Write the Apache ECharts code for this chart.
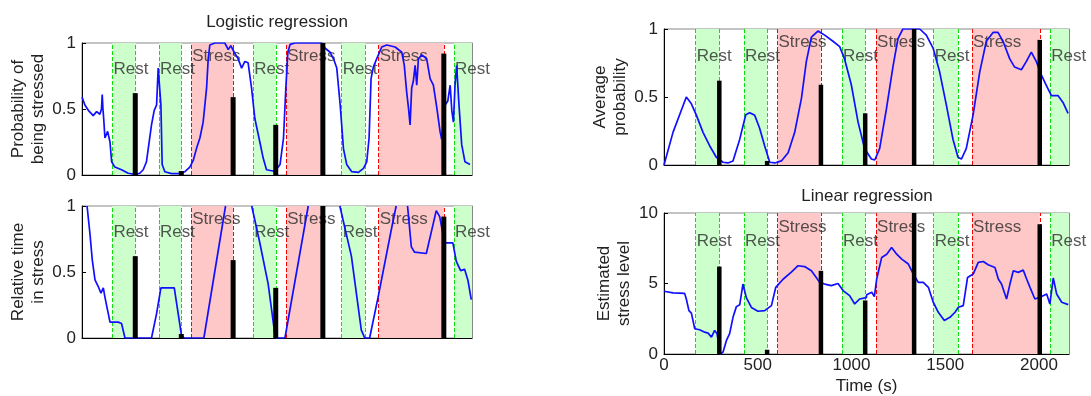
<!DOCTYPE html>
<html>
<head>
<meta charset="utf-8">
<script src="https://cdn.jsdelivr.net/npm/echarts@6/dist/echarts.min.js"></script>
<style>
  html, body { margin: 0; padding: 0; background: #fff; }
  #chart { width: 1091px; height: 396px; }
</style>
</head>
<body>
<div id="chart"></div>
<script>
// time axis (s) shared by all four panels
const xMax = 2160
const restBands = [[169, 297], [427, 551], [949, 1074], [1438, 1568], [2060, 2160]]
const stressBands = [[605, 836], [1131, 1333], [1643, 2004]]

// reference (self-reported) stress at the end of each block
const refTimes = [295, 550, 837, 1073, 1334, 1568, 2004]
const refProb = [0.62, 0.03, 0.59, 0.38, 1.0, 0, 0.92]
const refLevel = [6.2, 0.3, 5.9, 3.8, 10, 0, 9.2]

// logistic regression: probability of being stressed
const logisticProb = [
  [0, 0.59], [16, 0.53], [35, 0.49], [62, 0.45], [81, 0.48], [99, 0.46], [108, 0.5], [112, 0.61],
  [116, 0.5], [120, 0.43], [127, 0.28], [142, 0.33], [150, 0.28], [155, 0.25], [164, 0.10],
  [182, 0.06], [219, 0.04], [256, 0.013], [293, 0.005], [320, 0.013], [339, 0.04], [357, 0.10],
  [370, 0.23], [385, 0.38], [400, 0.49], [413, 0.53], [422, 0.81], [430, 0.80], [437, 0.53],
  [444, 0.08], [459, 0.025], [496, 0.01], [533, 0.01], [570, 0.025], [597, 0.06], [616, 0.11],
  [634, 0.20], [653, 0.28], [671, 0.40], [690, 0.66], [699, 0.88], [708, 0.985], [736, 1.0],
  [791, 1.0], [810, 0.95], [824, 0.98], [843, 0.93], [865, 0.88], [884, 0.81], [902, 0.86],
  [920, 0.85], [939, 0.66], [957, 0.43], [985, 0.25], [1003, 0.13], [1022, 0.04], [1058, 0.03],
  [1070, 0.03], [1097, 0.08], [1116, 0.28], [1129, 0.66], [1140, 0.93], [1153, 0.99], [1180, 1.0],
  [1328, 1.0], [1347, 0.96], [1374, 0.93], [1393, 0.88], [1411, 0.81], [1430, 0.53], [1448, 0.20],
  [1466, 0.08], [1494, 0.025], [1531, 0.02], [1559, 0.05], [1577, 0.10], [1590, 0.28], [1601, 0.73],
  [1614, 0.82], [1632, 0.88], [1660, 0.97], [1688, 0.985], [1734, 0.97], [1771, 0.93], [1785, 0.83],
  [1798, 0.63], [1808, 0.51], [1817, 0.38], [1826, 0.66], [1835, 0.71], [1845, 0.83], [1854, 0.68],
  [1863, 0.88], [1882, 0.91], [1909, 0.88], [1928, 0.73], [1946, 0.68], [1965, 0.51], [1983, 0.33],
  [1992, 0.27], [2001, 0.38], [2011, 0.53], [2026, 0.56], [2039, 0.68], [2048, 0.49], [2057, 0.40],
  [2066, 0.68], [2075, 0.83], [2088, 0.53], [2103, 0.23], [2121, 0.10], [2149, 0.08]
]

// relative time in stress ('-' = curve leaves the plot at the top)
const relStress = [
  [28, 1.0], [44, 0.79], [57, 0.59], [72, 0.44], [90, 0.39], [105, 0.34], [118, 0.38], [127, 0.31],
  [155, 0.12], [201, 0.12], [219, 0.11], [238, 0], [385, 0], [413, 0.185], [437, 0.38], [511, 0.38],
  [551, 0.02], [566, 0], [675, 0], [795, 1.0], [860, '-'], [940, 1.0], [985, 0.72], [1031, 0.41],
  [1068, 0.03], [1077, 0], [1124, 0], [1253, 1.0], [1340, '-'], [1428, 1.0], [1492, 0.62],
  [1547, 0.06], [1566, 0], [1593, 0], [1640, 0.31], [1713, 0.82], [1740, 1.0], [1770, '-'],
  [1803, 1.0], [1824, 0.69], [1842, 0.65], [1907, 0.64], [1962, 0.965], [1981, 0.92], [2008, 0.72],
  [2054, 0.72], [2073, 0.58], [2097, 0.51], [2119, 0.52], [2137, 0.44], [2156, 0.29]
]

// average probability
const avgProb = [
  [0, 0], [48, 0.24], [119, 0.50], [146, 0.45], [173, 0.365], [208, 0.24], [244, 0.14], [279, 0.057],
  [315, 0.02], [341, 0.015], [368, 0.03], [404, 0.19], [436, 0.37], [457, 0.385], [484, 0.365],
  [510, 0.27], [537, 0.14], [564, 0.02], [591, 0.015], [626, 0.03], [662, 0.09], [697, 0.24],
  [733, 0.49], [759, 0.76], [786, 0.94], [821, 0.985], [857, 0.955], [901, 0.91], [937, 0.87],
  [963, 0.78], [999, 0.59], [1035, 0.315], [1070, 0.12], [1106, 0.044], [1124, 0.037], [1150, 0.12],
  [1186, 0.41], [1222, 0.73], [1248, 0.93], [1274, 1.0], [1364, 1.0], [1399, 0.955], [1435, 0.86],
  [1470, 0.685], [1506, 0.44], [1541, 0.19], [1568, 0.057], [1586, 0.044], [1612, 0.12],
  [1648, 0.365], [1684, 0.685], [1719, 0.91], [1755, 0.975], [1781, 0.975], [1808, 0.91],
  [1844, 0.78], [1870, 0.72], [1906, 0.70], [1932, 0.76], [1959, 0.83], [1986, 0.76], [2013, 0.66],
  [2039, 0.585], [2066, 0.51], [2102, 0.51], [2128, 0.46], [2155, 0.38]
]

// linear regression: estimated stress level
const linearLevel = [
  [0, 4.45], [48, 4.33], [110, 4.3], [119, 3.9], [133, 3.08], [146, 2.9], [164, 1.79], [190, 1.72],
  [217, 1.55], [235, 1.48], [253, 1.2], [270, 1.67], [283, 1.44], [294, 0.49], [301, 0], [315, 0.14],
  [333, 0.96], [350, 1.44], [368, 2.6], [386, 3.36], [404, 3.5], [421, 4.96], [439, 4.0], [466, 3.3],
  [501, 3.03], [537, 3.08], [573, 3.43], [596, 4.73], [635, 5.3], [679, 5.8], [715, 6.26], [750, 6.2],
  [786, 5.9], [813, 5.4], [830, 5.08], [857, 4.96], [892, 4.85], [928, 5.0], [955, 4.5], [990, 4.14],
  [1017, 3.55], [1043, 3.9], [1079, 4.0], [1081, 4.2], [1108, 4.38], [1122, 4.07], [1134, 5.3],
  [1161, 6.85], [1188, 7.08], [1214, 7.55], [1241, 7.08], [1268, 6.73], [1303, 6.38], [1330, 5.67],
  [1356, 5.08], [1383, 5.08], [1410, 4.73], [1436, 3.67], [1463, 2.96], [1495, 2.38], [1525, 2.6],
  [1552, 2.96], [1570, 3.32], [1596, 3.43], [1619, 5.43], [1649, 5.67], [1676, 6.5], [1703, 6.56],
  [1729, 6.33], [1765, 6.14], [1783, 5.32], [1800, 4.96], [1827, 3.9], [1845, 4.96], [1863, 5.9],
  [1889, 5.79], [1916, 5.95], [1934, 5.32], [1952, 4.73], [1978, 3.9], [2014, 4.07], [2041, 4.26],
  [2058, 3.55], [2076, 5.39], [2094, 4.26], [2121, 3.67], [2156, 3.5]
]

const font = 'Liberation Sans, Arial, sans-serif'
const txt = '#222'

const panels = [
  { grid: { left: 82, top: 43, width: 390, height: 132 }, max: 1, step: 0.5, name: 'Probability of\nbeing stressed', gap: 32, curve: logisticProb, bars: refProb, barW: 5 },
  { grid: { left: 82, top: 206, width: 390, height: 132 }, max: 1, step: 0.5, name: 'Relative time\nin stress', gap: 32, curve: relStress, bars: refProb, barW: 5 },
  { grid: { left: 664, top: 29, width: 405, height: 136 }, max: 1, step: 0.5, name: 'Average\nprobability', gap: 34, curve: avgProb, bars: refProb, barW: 4.5 },
  { grid: { left: 664, top: 213, width: 405, height: 142 }, max: 10, step: 5, name: 'Estimated\nstress level', gap: 30, curve: linearLevel, bars: refLevel, barW: 4.5, showX: true }
]

const grid = [], xAxis = [], yAxis = [], series = []

panels.forEach(function (p, i) {
  grid.push(Object.assign({ show: true, borderColor: '#888', borderWidth: 1, backgroundColor: 'transparent' }, p.grid))
  xAxis.push({
    type: 'value', gridIndex: i, min: 0, max: xMax, interval: 500,
    name: p.showX ? 'Time (s)' : '', nameLocation: 'middle', nameGap: 24,
    nameTextStyle: { fontFamily: font, fontSize: 17, color: txt },
    axisLine: { lineStyle: { color: '#000' } },
    axisTick: { show: !!p.showX, inside: true, length: 4, lineStyle: { color: '#000' } },
    axisLabel: { show: !!p.showX, fontFamily: font, fontSize: 17, color: txt, margin: 3,
      formatter: function (v) { return String(v) } },
    splitLine: { show: false }
  })
  yAxis.push({
    type: 'value', gridIndex: i, min: 0, max: p.max, interval: p.step,
    name: p.name, nameLocation: 'middle', nameGap: p.gap, nameRotate: 90,
    nameTextStyle: { fontFamily: font, fontSize: 17, lineHeight: 20, color: txt },
    axisLine: { show: true, lineStyle: { color: '#000' } },
    axisTick: { inside: true, length: 4, lineStyle: { color: '#000' } },
    axisLabel: { fontFamily: font, fontSize: 17, color: txt, margin: 6 },
    splitLine: { show: false }
  })
  // mirrored ticks on the right edge
  yAxis.push({
    type: 'value', gridIndex: i, min: 0, max: p.max, interval: p.step, position: 'right',
    axisLine: { show: true, lineStyle: { color: '#888' } },
    axisTick: { inside: true, length: 4, lineStyle: { color: '#000' } },
    axisLabel: { show: false },
    splitLine: { show: false }
  })
  const yi = i * 2
  const restLabelY = p.max * 0.8
  const stressLabelY = p.max * 0.9

  // background blocks + dashed borders
  const lines = []
  restBands.forEach(function (b) {
    b.forEach(function (t) {
      if (t < xMax) lines.push({ xAxis: t, lineStyle: { color: '#11dd11' } })
    })
  })
  stressBands.forEach(function (b) {
    b.forEach(function (t) { lines.push({ xAxis: t, lineStyle: { color: '#ff0000' } }) })
  })
  series.push({
    type: 'line', xAxisIndex: i, yAxisIndex: yi, data: [], silent: true, z: 1,
    markArea: {
      silent: true, z: 1,
      data: restBands.map(function (b) { return [{ xAxis: b[0], itemStyle: { color: '#ccffcc', opacity: 1 } }, { xAxis: b[1] }] })
        .concat(stressBands.map(function (b) { return [{ xAxis: b[0], itemStyle: { color: '#ffc8c8', opacity: 1 } }, { xAxis: b[1] }] }))
    },
    markLine: {
      silent: true, z: 2, symbol: 'none', label: { show: false },
      lineStyle: { type: [4, 2], width: 1 },
      data: lines
    }
  })
  // block names
  series.push({
    type: 'scatter', xAxisIndex: i, yAxisIndex: yi, symbolSize: 0, silent: true, z: 3, clip: false,
    data: restBands.map(function (b) { return [b[0], restLabelY, 'Rest'] })
      .concat(stressBands.map(function (b) { return [b[0], stressLabelY, 'Stress'] })),
    label: {
      show: true, position: 'right', distance: 1,
      fontFamily: font, fontSize: 17, color: '#2c2c2c',
      formatter: function (q) { return q.value[2] }
    }
  })
  series.push({
    type: 'line', xAxisIndex: i, yAxisIndex: yi, data: p.curve, z: 4,
    symbol: 'none', showSymbol: false, connectNulls: false,
    lineStyle: { color: '#1010ff', width: 1.7 }
  })
  series.push({
    type: 'bar', xAxisIndex: i, yAxisIndex: yi, z: 6, barWidth: p.barW,
    data: refTimes.map(function (t, k) { return [t, p.bars[k]] }),
    itemStyle: { color: '#000' }
  })
})

const myChart = echarts.init(document.getElementById('chart'))
myChart.setOption({
  animation: false,
  title: [
    { text: 'Logistic regression', left: 277, top: 14, textAlign: 'center', padding: 0,
      textStyle: { fontFamily: font, fontSize: 17, fontWeight: 'normal', color: txt } },
    { text: 'Linear regression', left: 867, top: 188, textAlign: 'center', padding: 0,
      textStyle: { fontFamily: font, fontSize: 17, fontWeight: 'normal', color: txt } }
  ],
  grid: grid,
  xAxis: xAxis,
  yAxis: yAxis,
  series: series
})
</script>
</body>
</html>
